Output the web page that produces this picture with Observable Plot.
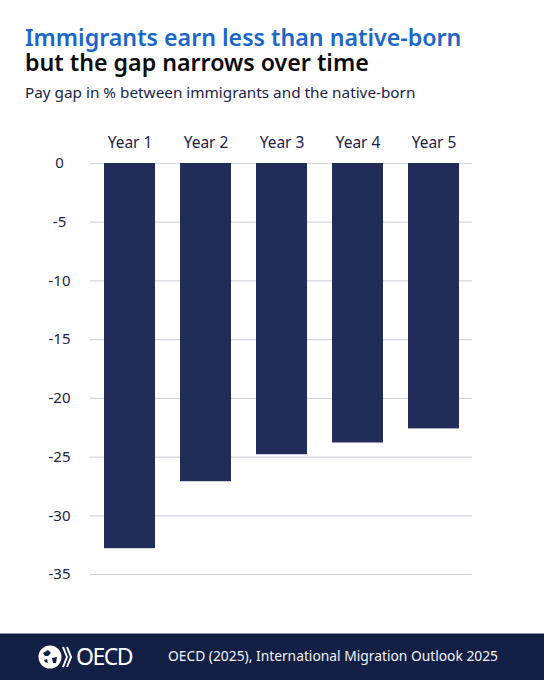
<!DOCTYPE html>
<html>
<head>
<meta charset="utf-8">
<script src="https://cdn.jsdelivr.net/npm/d3@7"></script>
<script src="https://cdn.jsdelivr.net/npm/@observablehq/plot@0.6"></script>
<style>
html,body{margin:0;padding:0;background:#fff;overflow:hidden}
body{width:544px;height:680px;position:relative;font-family:"Noto Sans",sans-serif}
#t1,#t2,#sub{position:absolute;left:25px;white-space:nowrap}
#t1{top:25px;font-size:23.2px;line-height:24px;font-weight:600;color:#1a66c9}
#t2{top:50px;font-size:23.2px;line-height:24px;font-weight:600;color:#0a0a0a}
#sub{top:82px;font-size:15.3px;line-height:21px;color:#1a2248}
#chart{position:absolute;left:0;top:120px}
#chart svg{display:block}
#foot{position:absolute;left:0;top:633px;width:544px;height:47px;background:#141f45;border-top:1px solid #8d93a8;box-sizing:border-box;color:#fff}
#src{position:absolute;left:168px;top:12px;font-size:13.8px;line-height:20px;white-space:nowrap;color:#f2f3f7}
#logoText{position:absolute;left:76px;top:6px;font-size:23px;line-height:32px;letter-spacing:-1.5px;color:#fff;font-weight:400}
#logo{position:absolute;left:38px;top:10px}
</style>
</head>
<body>
<div id="t1">Immigrants earn less than native-born</div>
<div id="t2">but the gap narrows over time</div>
<div id="sub">Pay gap in % between immigrants and the native-born</div>
<div id="chart"></div>
<div id="foot">
<svg id="logo" width="36" height="26" viewBox="0 0 36 26">
<circle cx="12" cy="13" r="11.5" fill="#fff"/>
<path d="M5 9 L10 6 L13 9 L10 12 L7 12Z M14 14 L19 13 L18 19 L15 19Z M6 16 L9 15 L10 19 L7 18Z" fill="#141f45"/>
<path d="M25 3 L29 13 L25 23 M29 3 L33 13 L29 23" fill="none" stroke="#fff" stroke-width="2"/>
</svg>
<div id="logoText">OECD</div>
<div id="src">OECD (2025), International Migration Outlook 2025</div>
</div>
<script>
const years = ["Year 1","Year 2","Year 3","Year 4","Year 5"];
const gap = [-32.8,-27.1,-24.8,-23.8,-22.6];
const yTicks = [0,-5,-10,-15,-20,-25,-30,-35];
const table = years.map((year,i)=>({year,value:gap[i]}));
const plot = Plot.plot({
  width:544,height:500,
  marginTop:43,marginBottom:46,marginLeft:90,marginRight:72,
  style:{fontFamily:"'Noto Sans',sans-serif",fontSize:"15px",color:"#1a2248",background:"transparent",overflow:"visible"},
  x:{domain:years,paddingInner:0.33,paddingOuter:0.17,label:null},
  y:{domain:[-35,0],label:null},
  marks:[
    Plot.ruleY(yTicks,{stroke:"#d4d6de",strokeWidth:1.2}),
    Plot.barY(table,{x:"year",y:"value",fill:"#222c59"}),
    Plot.axisX({anchor:"top",tickSize:0,tickPadding:16,label:null,fontSize:15.5}),
    Plot.axisY({anchor:"left",ticks:yTicks,tickSize:0,tickPadding:31,textAnchor:"middle",label:null,tickFormat:d=>String(d)})
  ]
});
document.getElementById("chart").appendChild(plot);
</script>
</body>
</html>
